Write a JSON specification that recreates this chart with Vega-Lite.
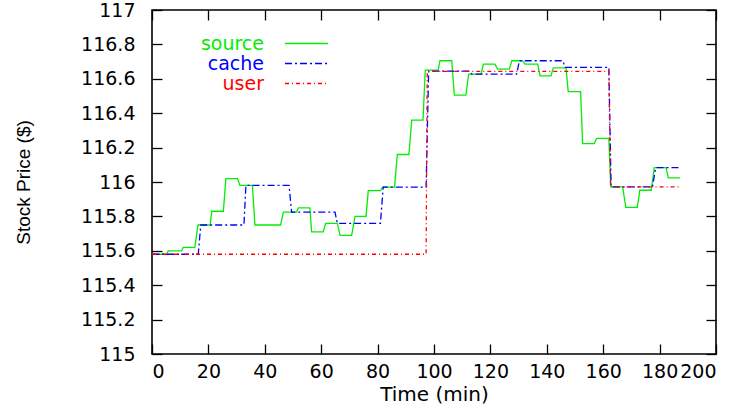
{
  "$schema": "https://vega.github.io/schema/vega-lite/v6.json",
  "width": 564,
  "height": 344,
  "autosize": "none",
  "padding": {"left": 152, "top": 10, "right": 27, "bottom": 54},
  "background": "white",
  "config": {
    "view": {"stroke": "black", "strokeWidth": 1.6},
    "axis": {
      "grid": false,
      "domain": false,
      "tickColor": "black",
      "tickSize": -10,
      "tickWidth": 1.3,
      "labelFont": "DejaVu Sans",
      "labelFontSize": 19,
      "labelColor": "black",
      "labelOverlap": false,
      "titleFont": "DejaVu Sans",
      "titleFontSize": 20,
      "titleFontWeight": "normal",
      "titleColor": "black"
    }
  },
  "data": {
    "values": [
      {"series": "source", "t": 0, "price": 115.58},
      {"series": "source", "t": 5.2, "price": 115.58},
      {"series": "source", "t": 5.8, "price": 115.6},
      {"series": "source", "t": 10.5, "price": 115.6},
      {"series": "source", "t": 11.1, "price": 115.62},
      {"series": "source", "t": 15.2, "price": 115.62},
      {"series": "source", "t": 16.3, "price": 115.75},
      {"series": "source", "t": 20.6, "price": 115.75},
      {"series": "source", "t": 21.2, "price": 115.83},
      {"series": "source", "t": 25.3, "price": 115.83},
      {"series": "source", "t": 26.2, "price": 116.02},
      {"series": "source", "t": 30.3, "price": 116.02},
      {"series": "source", "t": 31.2, "price": 115.98},
      {"series": "source", "t": 35.6, "price": 115.98},
      {"series": "source", "t": 36.5, "price": 115.75},
      {"series": "source", "t": 45.6, "price": 115.75},
      {"series": "source", "t": 46.6, "price": 115.825},
      {"series": "source", "t": 51.3, "price": 115.825},
      {"series": "source", "t": 51.9, "price": 115.85},
      {"series": "source", "t": 56.0, "price": 115.85},
      {"series": "source", "t": 56.6, "price": 115.71},
      {"series": "source", "t": 60.7, "price": 115.71},
      {"series": "source", "t": 61.6, "price": 115.76},
      {"series": "source", "t": 65.7, "price": 115.76},
      {"series": "source", "t": 66.7, "price": 115.69},
      {"series": "source", "t": 70.8, "price": 115.69},
      {"series": "source", "t": 72.0, "price": 115.8},
      {"series": "source", "t": 75.9, "price": 115.8},
      {"series": "source", "t": 76.7, "price": 115.95},
      {"series": "source", "t": 81.0, "price": 115.95},
      {"series": "source", "t": 81.8, "price": 115.97},
      {"series": "source", "t": 86.0, "price": 115.97},
      {"series": "source", "t": 87.0, "price": 116.16},
      {"series": "source", "t": 91.1, "price": 116.16},
      {"series": "source", "t": 92.1, "price": 116.36},
      {"series": "source", "t": 96.1, "price": 116.36},
      {"series": "source", "t": 96.9, "price": 116.65},
      {"series": "source", "t": 101.5, "price": 116.65},
      {"series": "source", "t": 102.1, "price": 116.705},
      {"series": "source", "t": 106.3, "price": 116.705},
      {"series": "source", "t": 107.2, "price": 116.505},
      {"series": "source", "t": 111.3, "price": 116.505},
      {"series": "source", "t": 112.3, "price": 116.627},
      {"series": "source", "t": 116.7, "price": 116.627},
      {"series": "source", "t": 117.5, "price": 116.685},
      {"series": "source", "t": 121.6, "price": 116.685},
      {"series": "source", "t": 122.6, "price": 116.656},
      {"series": "source", "t": 126.7, "price": 116.656},
      {"series": "source", "t": 127.6, "price": 116.705},
      {"series": "source", "t": 131.3, "price": 116.705},
      {"series": "source", "t": 132.3, "price": 116.685},
      {"series": "source", "t": 136.8, "price": 116.685},
      {"series": "source", "t": 137.6, "price": 116.617},
      {"series": "source", "t": 141.5, "price": 116.617},
      {"series": "source", "t": 142.3, "price": 116.664},
      {"series": "source", "t": 146.8, "price": 116.664},
      {"series": "source", "t": 147.6, "price": 116.525},
      {"series": "source", "t": 152.0, "price": 116.525},
      {"series": "source", "t": 152.7, "price": 116.223},
      {"series": "source", "t": 156.8, "price": 116.223},
      {"series": "source", "t": 157.7, "price": 116.254},
      {"series": "source", "t": 162.0, "price": 116.254},
      {"series": "source", "t": 162.7, "price": 115.972},
      {"series": "source", "t": 166.9, "price": 115.972},
      {"series": "source", "t": 168.0, "price": 115.853},
      {"series": "source", "t": 172.1, "price": 115.853},
      {"series": "source", "t": 173.0, "price": 115.952},
      {"series": "source", "t": 177.0, "price": 115.952},
      {"series": "source", "t": 178.1, "price": 116.083},
      {"series": "source", "t": 182.3, "price": 116.083},
      {"series": "source", "t": 183.1, "price": 116.024},
      {"series": "source", "t": 187.2, "price": 116.024},
      {"series": "cache", "t": 0, "price": 115.58},
      {"series": "cache", "t": 16.4, "price": 115.58},
      {"series": "cache", "t": 17.3, "price": 115.75},
      {"series": "cache", "t": 32.6, "price": 115.75},
      {"series": "cache", "t": 33.3, "price": 115.98},
      {"series": "cache", "t": 48.6, "price": 115.98},
      {"series": "cache", "t": 49.5, "price": 115.825},
      {"series": "cache", "t": 64.9, "price": 115.825},
      {"series": "cache", "t": 65.7, "price": 115.76},
      {"series": "cache", "t": 81.0, "price": 115.76},
      {"series": "cache", "t": 82.0, "price": 115.97},
      {"series": "cache", "t": 97.2, "price": 115.97},
      {"series": "cache", "t": 98.1, "price": 116.645},
      {"series": "cache", "t": 112.6, "price": 116.645},
      {"series": "cache", "t": 113.4, "price": 116.627},
      {"series": "cache", "t": 129.3, "price": 116.627},
      {"series": "cache", "t": 130.3, "price": 116.705},
      {"series": "cache", "t": 145.7, "price": 116.705},
      {"series": "cache", "t": 146.5, "price": 116.667},
      {"series": "cache", "t": 162.0, "price": 116.667},
      {"series": "cache", "t": 162.8, "price": 115.972},
      {"series": "cache", "t": 177.5, "price": 115.972},
      {"series": "cache", "t": 178.6, "price": 116.083},
      {"series": "cache", "t": 187.2, "price": 116.083},
      {"series": "user", "t": 0, "price": 115.58},
      {"series": "user", "t": 97.2, "price": 115.58},
      {"series": "user", "t": 97.6, "price": 116.643},
      {"series": "user", "t": 162.0, "price": 116.643},
      {"series": "user", "t": 162.6, "price": 115.972},
      {"series": "user", "t": 187.2, "price": 115.972}
    ]
  },
  "layer": [
    {
      "mark": {"type": "line", "strokeWidth": 1.3, "clip": true},
      "encoding": {
        "x": {
          "field": "t", "type": "quantitative",
          "scale": {"domain": [0, 200], "nice": false, "zero": false},
          "axis": {"values": [0, 20, 40, 60, 80, 100, 120, 140, 160, 180, 200], "title": "Time (min)", "labelPadding": 18, "titlePadding": 3, "format": "d"}
        },
        "y": {
          "field": "price", "type": "quantitative",
          "scale": {"domain": [115, 117], "nice": false, "zero": false},
          "axis": {"values": [115, 115.2, 115.4, 115.6, 115.8, 116, 116.2, 116.4, 116.6, 116.8, 117], "title": "Stock Price ($)", "titleFont": "Liberation Sans", "titleFontSize": 19, "labelPadding": 27, "titlePadding": 47, "format": ".1~f"}
        },
        "color": {
          "field": "series", "type": "nominal",
          "scale": {"domain": ["source", "cache", "user"], "range": ["#00ee00", "#0000ff", "#ff0000"]},
          "legend": {
            "title": null,
            "orient": "none",
            "legendX": 145,
            "legendY": 24,
            "symbolType": "M-4.3,0H4.3",
            "symbolSize": 100,
            "symbolStrokeWidth": 1.3,
            "labelAlign": "right",
            "labelOffset": -52,
            "labelFont": "DejaVu Sans",
            "labelFontSize": 19,
            "rowPadding": 0,
            "padding": 0,
            "encode": {"labels": {"update": {"fill": {"scale": "color", "field": "value"}}}}
          }
        },
        "strokeDash": {
          "field": "series", "type": "nominal",
          "scale": {"domain": ["source", "cache", "user"], "range": [[1, 0], [7, 3, 2, 3], [4, 3, 1, 3]]},
          "legend": {
            "title": null,
            "orient": "none",
            "legendX": 145,
            "legendY": 24,
            "symbolType": "M-4.3,0H4.3",
            "symbolSize": 100,
            "symbolStrokeWidth": 1.3,
            "labelAlign": "right",
            "labelOffset": -52,
            "labelFont": "DejaVu Sans",
            "labelFontSize": 19,
            "rowPadding": 0,
            "padding": 0,
            "encode": {"labels": {"update": {"fill": {"scale": "color", "field": "value"}}}}
          }
        }
      }
    },
    {
      "mark": {"type": "point", "opacity": 0},
      "encoding": {
        "x": {
          "field": "t", "type": "quantitative",
          "axis": {"orient": "top", "values": [0, 20, 40, 60, 80, 100, 120, 140, 160, 180, 200], "labels": false, "title": null}
        },
        "y": {
          "field": "price", "type": "quantitative",
          "axis": {"orient": "right", "values": [115, 115.2, 115.4, 115.6, 115.8, 116, 116.2, 116.4, 116.6, 116.8, 117], "labels": false, "title": null}
        }
      }
    }
  ],
  "resolve": {"axis": {"x": "independent", "y": "independent"}}
}
